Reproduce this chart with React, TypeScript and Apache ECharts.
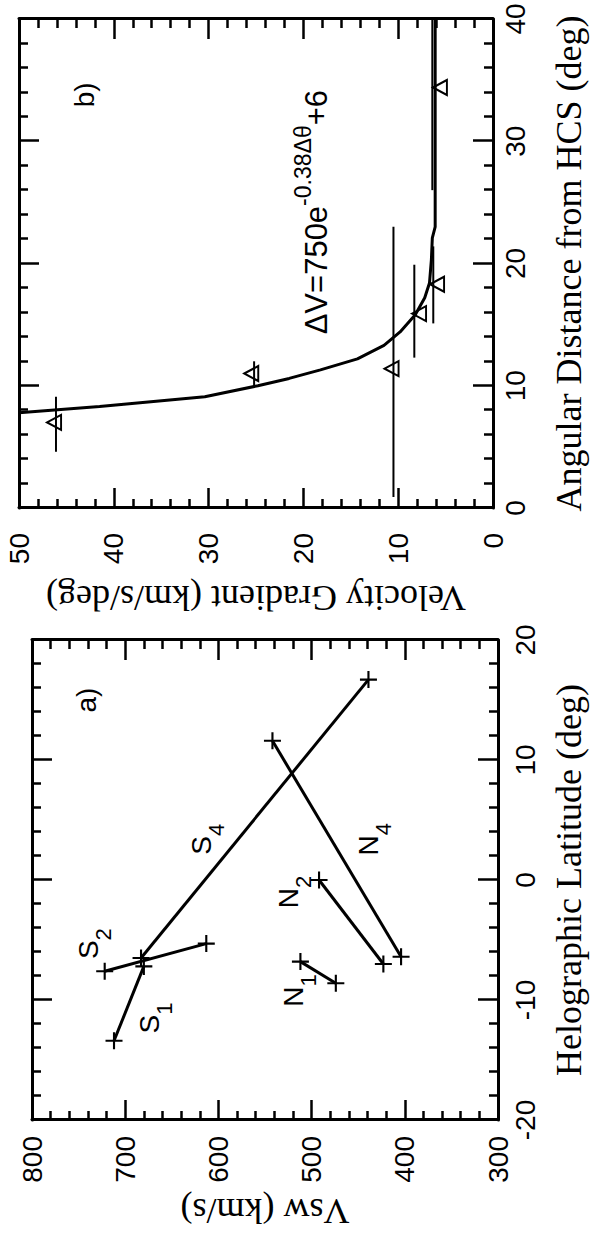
import React, { useEffect, useRef } from 'react';
import * as echarts from 'echarts';

// ---------- Panel a: solar wind speed vs heliographic latitude ----------
const latTicks = [-20, -10, 0, 10, 20];
const vswTicks = [300, 400, 500, 600, 700, 800];

// each segment: [latitude (deg), Vsw (km/s)]
const segS1 = [[-13.4, 712], [-7.2, 680]];
const segS2 = [[-7.6, 722], [-5.3, 613]];
const segS4 = [[-6.5, 683], [16.7, 439]];
const segN1 = [[-6.8, 512], [-8.6, 474]];
const segN2 = [[0.0, 492], [-7.0, 423]];
const segN4 = [[-6.4, 404], [11.6, 542]];
const segmentNames = ['S1', 'S2', 'S4', 'N1', 'N2', 'N4'];
const segments = [segS1, segS2, segS4, segN1, segN2, segN4];

// label anchors in data units: [latitude, Vsw, letter, subscript]
const segmentLabels: [number, number, string, string][] = [
  [3.4, 618, 'S', '4'],
  [-5.3, 739, 'S', '2'],
  [-11.5, 674, 'S', '1'],
  [-9.2, 519, 'N', '1'],
  [-1.0, 525, 'N', '2'],
  [3.4, 439, 'N', '4'],
];
const panelATag: [number, number, string] = [15.0, 742, 'a)'];

// ---------- Panel b: velocity gradient vs angular distance ----------
const angleTicks = [0, 10, 20, 30, 40];
const gradTicks = [0, 10, 20, 30, 40, 50];

const gradAngle = [7.0, 11.0, 11.4, 15.9, 18.3, 34.4];
const gradTriangle = [46.3, 25.5, 10.7, 7.8, 5.9, 5.6];
const gradBar = [46.1, 25.2, 10.5, 8.3, 6.3, 6.4];
const errLow = [4.6, 9.9, 0.9, 12.3, 15.1, 26.0];
const errHigh = [9.1, 12.0, 23.0, 19.9, 21.4, 40.0];

const fitAngle = [7.8, 8.3, 9.1, 10.0, 10.6, 11.3, 12.2, 13.3, 14.4, 15.8, 17.2, 18.4, 20.3, 22.1, 23.0, 40.0];
const fitValue = [50, 41.5, 30.4, 24.8, 21.5, 18.2, 14.3, 11.5, 9.8, 8.2, 7.2, 6.7, 6.5, 6.4, 6.1, 6.1];
const fitText: [number, number] = [24.2, 18.6];
const panelBTag: [number, number, string] = [33.8, 43.1, 'b)'];

// ---------- styling ----------
const SANS = "'Liberation Sans', Arial, Helvetica, sans-serif";
const SERIF = "'Liberation Serif', 'Times New Roman', serif";
const PLUS = 'path://M-1,-8L1,-8L1,-1L8,-1L8,1L1,1L1,8L-1,8L-1,1L-8,1L-8,-1L-1,-1Z';
const INVISIBLE = { color: 'rgba(0,0,0,0)', opacity: 1 };

function axis(extra: any, ticks: number[], labelMargin: number | null) {
  return {
    type: 'value',
    min: ticks[0],
    max: ticks[ticks.length - 1],
    interval: ticks[1] - ticks[0],
    splitLine: { show: false },
    axisLine: { show: true, onZero: false, lineStyle: { color: '#000', width: 3 } },
    axisTick: { show: true, inside: true, length: 20, lineStyle: { color: '#000', width: 2.5 } },
    minorTick: { show: true, splitNumber: 5, length: 9, lineStyle: { color: '#000', width: 2.5 } },
    minorSplitLine: { show: false },
    axisLabel:
      labelMargin === null
        ? { show: false }
        : { show: true, margin: labelMargin, fontSize: 28, color: '#000', fontFamily: SANS },
    nameTextStyle: { fontSize: 36, color: '#000', fontFamily: SERIF },
    ...extra,
  };
}

const subRich = {
  m: { fontSize: 28, fontFamily: SANS, color: '#000', lineHeight: 28, opacity: 1 },
  s: { fontSize: 22, fontFamily: SANS, color: '#000', lineHeight: 22, padding: [30, 0, 0, 0], opacity: 1 },
};

function buildOption() {
  const series: any[] = segments.map((seg, i) => ({
    name: segmentNames[i],
    type: 'line',
    xAxisIndex: 0,
    yAxisIndex: 0,
    data: seg,
    symbol: PLUS,
    symbolSize: 17,
    showAllSymbol: true,
    lineStyle: { color: '#000', width: 3, opacity: 1 },
    itemStyle: { color: '#000', opacity: 1 },
    z: 3,
  }));

  series.push({
    name: 'labels-a',
    type: 'scatter',
    xAxisIndex: 0,
    yAxisIndex: 0,
    symbolSize: 1,
    itemStyle: INVISIBLE,
    data: segmentLabels.map((l) => ({ value: [l[0], l[1]], main: l[2], sub: l[3] })),
    label: {
      show: true,
      position: 'inside',
      opacity: 1,
      color: '#000',
      formatter: (p: any) => `{m|${p.data.main}}{s|${p.data.sub}}`,
      rich: subRich,
    },
    z: 4,
  });

  series.push({
    name: 'tag-a',
    type: 'scatter',
    xAxisIndex: 0,
    yAxisIndex: 0,
    symbolSize: 1,
    itemStyle: INVISIBLE,
    data: [[panelATag[0], panelATag[1]]],
    label: { show: true, position: 'inside', opacity: 1, formatter: panelATag[2], fontSize: 28, fontFamily: SANS, color: '#000' },
  });

  // Panel b
  series.push({
    name: 'errorbars',
    type: 'custom',
    xAxisIndex: 2,
    yAxisIndex: 2,
    data: gradAngle.map((_, i) => [errLow[i], errHigh[i], gradBar[i]]),
    encode: { x: [0, 1], y: 2 },
    renderItem: (_params: any, api: any) => {
      const p1 = api.coord([api.value(0), api.value(2)]);
      const p2 = api.coord([api.value(1), api.value(2)]);
      return {
        type: 'line',
        shape: { x1: p1[0], y1: p1[1], x2: p2[0], y2: p2[1] },
        style: { stroke: '#000', lineWidth: 2 },
      };
    },
    z: 2,
  });

  series.push({
    name: 'fit',
    type: 'line',
    xAxisIndex: 2,
    yAxisIndex: 2,
    data: fitAngle.map((a, i) => [a, fitValue[i]]),
    showSymbol: false,
    symbol: 'none',
    clip: true,
    lineStyle: { color: '#000', width: 3, opacity: 1 },
    z: 3,
  });

  series.push({
    name: 'gradient',
    type: 'scatter',
    xAxisIndex: 2,
    yAxisIndex: 2,
    data: gradAngle.map((a, i) => [a, gradTriangle[i]]),
    symbol: 'triangle',
    symbolSize: [15, 14],
    itemStyle: { color: 'rgba(0,0,0,0)', borderColor: '#000', borderWidth: 2, opacity: 1 },
    z: 4,
  });

  series.push({
    name: 'fit-text',
    type: 'scatter',
    xAxisIndex: 2,
    yAxisIndex: 2,
    symbolSize: 1,
    itemStyle: INVISIBLE,
    data: [[fitText[0], fitText[1]]],
    label: {
      show: true,
      position: 'inside',
      opacity: 1,
      color: '#000',
      formatter: '{f|ΔV=750e}{p|-0.38Δθ}{f|+6}',
      rich: {
        f: { fontSize: 31, fontFamily: SANS, color: '#000', lineHeight: 50 },
        p: { fontSize: 23, fontFamily: SANS, color: '#000', lineHeight: 23, verticalAlign: 'top' },
      },
    },
    z: 4,
  });

  series.push({
    name: 'tag-b',
    type: 'scatter',
    xAxisIndex: 2,
    yAxisIndex: 2,
    symbolSize: 1,
    itemStyle: INVISIBLE,
    data: [[panelBTag[0], panelBTag[1]]],
    label: { show: true, position: 'inside', opacity: 1, formatter: panelBTag[2], fontSize: 28, fontFamily: SANS, color: '#000' },
  });

  return {
    animation: false,
    backgroundColor: '#fff',
    grid: [
      { left: 116, top: 32, width: 480, height: 473 },
      { left: 728, top: 19, width: 489, height: 478 },
    ],
    xAxis: [
      axis({ gridIndex: 0, position: 'bottom', name: 'Helographic Latitude (deg)', nameLocation: 'middle', nameGap: 53 }, latTicks, 13),
      axis({ gridIndex: 0, position: 'top' }, latTicks, null),
      axis({ gridIndex: 1, position: 'bottom', name: 'Angular Distance from HCS (deg)', nameLocation: 'middle', nameGap: 58 }, angleTicks, 8),
      axis({ gridIndex: 1, position: 'top' }, angleTicks, null),
    ],
    yAxis: [
      axis({ gridIndex: 0, position: 'left', name: 'Vsw (km/s)', nameLocation: 'middle', nameRotate: 90, nameGap: 73 }, vswTicks, 16),
      axis({ gridIndex: 0, position: 'right' }, vswTicks, null),
      axis({ gridIndex: 1, position: 'left', name: 'Velocity Gradient (km/s/deg)', nameLocation: 'middle', nameRotate: 90, nameGap: 72 }, gradTicks, 25),
      axis({ gridIndex: 1, position: 'right' }, gradTicks, null),
    ],
    series,
  };
}

export default function App() {
  const ref = useRef<HTMLDivElement>(null);
  useEffect(() => {
    if (!ref.current) return;
    const chart = echarts.init(ref.current, null, { renderer: 'svg', width: 1236, height: 592 });
    chart.setOption(buildOption());
    return () => chart.dispose();
  }, []);
  return (
    <div style={{ position: 'absolute', left: 0, top: 0, width: 592, height: 1236, overflow: 'hidden', background: '#fff' }}>
      <div
        ref={ref}
        style={{
          position: 'absolute',
          left: 0,
          top: 0,
          width: 1236,
          height: 592,
          transformOrigin: '0 0',
          transform: 'translate(0px, 1236px) rotate(-90deg)',
        }}
      />
    </div>
  );
}
